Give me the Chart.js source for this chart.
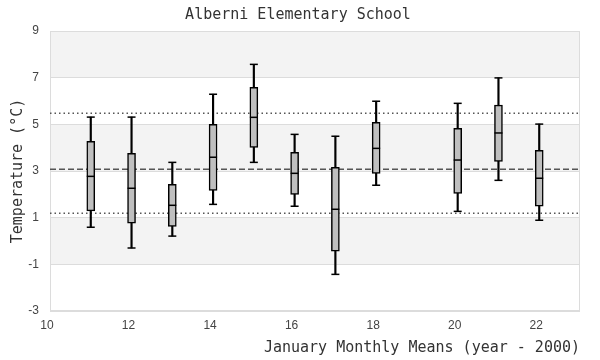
<!DOCTYPE html>
<html><head><meta charset="utf-8">
<script src="https://cdn.jsdelivr.net/npm/chart.js@4"></script>
<style>html,body{margin:0;padding:0;background:#fff}#wrap{width:600px;height:360px}</style>
</head><body><div id="wrap"><canvas id="c" width="600" height="360"></canvas></div>
<script>
const years = [11,12,13,14,15,16,17,18,20,21,22];
const whiskerLow  = [0.59,-0.30,0.21,1.57,3.37,1.49,-1.43,2.39,1.27,2.60,0.89];
const q1          = [1.29, 0.76,0.63,2.17,4.01,2.00,-0.44,2.90,2.04,3.41,1.49];
const median      = [2.77, 2.26,1.53,3.59,5.30,2.90, 1.36,3.97,3.47,4.63,2.69];
const q3          = [4.27, 3.76,2.43,5.00,6.59,3.80, 3.16,5.09,4.83,5.83,3.89];
const whiskerHigh = [5.31, 5.31,3.37,6.29,7.57,4.57, 4.49,5.99,5.90,6.99,5.01];
const refUpper = 5.47, refMean = 3.07, refLower = 1.19;
const xRange = [10, 23];
const yRange = [-3, 9];
const xTickMax = 22;

const mono = "'DejaVu Sans Mono', monospace";
const sans = "'Liberation Sans', Arial, sans-serif";

const bands = {
  id: 'bands',
  beforeDraw(chart) {
    const {ctx, chartArea: a, scales: {y}} = chart;
    const ticks = y.ticks.map(t => t.value).sort((p, q) => q - p);
    ctx.save();
    for (let i = 0; i < ticks.length - 1; i++) {
      if (i % 2 === 0) {
        const top = y.getPixelForValue(ticks[i]);
        const bot = y.getPixelForValue(ticks[i + 1]);
        ctx.fillStyle = '#f3f3f3';
        ctx.fillRect(a.left, top, a.right - a.left, bot - top);
      }
    }
    ctx.restore();
  },
  beforeDatasetsDraw(chart) {
    const {ctx, chartArea: a} = chart;
    ctx.save();
    ctx.strokeStyle = '#dcdcdc';
    ctx.lineWidth = 1;
    ctx.strokeRect(a.left + 0.5, a.top + 0.5, a.right - a.left - 1, a.bottom - a.top - 1);
    ctx.restore();
  }
};

function refLine(v, dash, w) {
  return {type: 'line', data: [{x: xRange[0], y: v}, {x: xRange[1], y: v}],
    borderColor: '#555', borderWidth: w, borderDash: dash, pointRadius: 0, order: 5, fill: false};
}

new Chart(document.getElementById('c'), {
  type: 'bar',
  data: {
    datasets: [
      refLine(refUpper, [1.5, 3], 1.5),
      refLine(refMean, [6, 3], 1.5),
      refLine(refLower, [1.5, 3], 1.5),
      {type: 'bar', data: years.map((x, i) => ({x, y: [whiskerLow[i], whiskerHigh[i]]})),
        backgroundColor: '#000', barThickness: 1.5, grouped: false, order: 3, borderWidth: 0},
      {type: 'bar', data: years.map((x, i) => ({x, y: [q1[i], q3[i]]})),
        backgroundColor: '#bfbfbf', borderColor: '#000', borderWidth: 1.5, borderSkipped: false,
        barThickness: 8, grouped: false, order: 2},
      {type: 'scatter', data: years.flatMap((x, i) => [{x, y: whiskerLow[i]}, {x, y: whiskerHigh[i]}]),
        pointStyle: 'line', pointRadius: 4, borderColor: '#000', borderWidth: 1.5, order: 1},
      {type: 'scatter', data: years.map((x, i) => ({x, y: median[i]})),
        pointStyle: 'line', pointRadius: 4, borderColor: '#000', borderWidth: 1.5, order: 1}
    ]
  },
  options: {
    responsive: false, animation: false,
    layout: {padding: {left: 16, right: 20, top: 0, bottom: 0}},
    plugins: {
      legend: {display: false}, tooltip: {enabled: false},
      title: {display: true, text: 'Alberni Elementary School', color: '#333',
        font: {family: mono, size: 15, weight: 'normal'}, padding: {top: 6, bottom: 7}}
    },
    scales: {
      x: {type: 'linear', min: xRange[0], max: xRange[1], offset: false,
        grid: {display: false, drawTicks: false}, border: {display: false},
        afterBuildTicks(s) { s.ticks = s.ticks.filter(t => t.value <= xTickMax); },
        afterFit(s) { s.height = 49; },
        ticks: {stepSize: 2, color: '#444', font: {family: sans, size: 12}, padding: 7, maxRotation: 0, labelOffset: -3},
        title: {display: true, text: 'January Monthly Means (year - 2000)', align: 'end',
          color: '#333', font: {family: mono, size: 15}, padding: {top: 7, bottom: 3}}},
      y: {min: yRange[0], max: yRange[1],
        grid: {color: '#dcdcdc', drawTicks: false}, border: {display: false},
        afterFit(s) { s.width = 34; },
        ticks: {stepSize: 2, color: '#444', font: {family: sans, size: 12}, padding: 11},
        title: {display: true, text: 'Temperature (°C)', color: '#333',
          font: {family: mono, size: 15}, padding: {top: -7, bottom: 0}}}
    }
  },
  plugins: [bands]
});
</script></body></html>
